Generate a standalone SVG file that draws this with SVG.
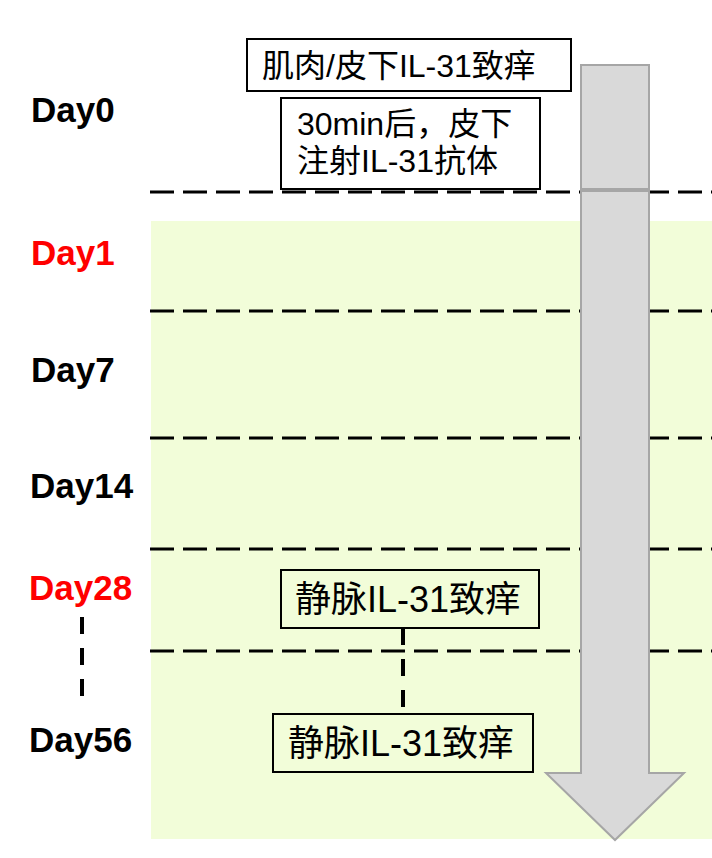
<svg xmlns="http://www.w3.org/2000/svg" width="712" height="858" viewBox="0 0 712 858">
<style>
.day{font-family:"Liberation Sans","Noto Sans CJK SC",sans-serif;font-weight:bold;font-size:35px;fill:#000}
.red{fill:#FF0000}
.box{fill:#fff;stroke:#000;stroke-width:2}
.gbox{fill:#F2FDD9;stroke:#000;stroke-width:2}
.t{font-family:"Liberation Sans","Noto Sans CJK SC",sans-serif;font-size:32px;fill:#000}
.t2{font-size:36px}
.hd{stroke:#000;stroke-width:3;stroke-dasharray:24 9;fill:none}
.vd{stroke:#000;stroke-width:4;stroke-dasharray:17 14;fill:none}
.arr{fill:#D9D9D9;stroke:#A6A6A6;stroke-width:2}
</style>
<rect width="712" height="858" fill="#fff"/>
<rect id="phase" x="151" y="221" width="561" height="618" fill="#F2FDD9"/>
<g id="connectors">
<line class="hd" x1="150" y1="192" x2="712" y2="192"/>
<line class="hd" x1="150" y1="311" x2="712" y2="311"/>
<line class="hd" x1="150" y1="438" x2="712" y2="438"/>
<line class="hd" x1="150" y1="549" x2="712" y2="549"/>
<line class="hd" x1="150" y1="651" x2="712" y2="651"/>
<line class="vd" x1="82" y1="617" x2="82" y2="697"/>
<line class="vd" x1="403" y1="628" x2="403" y2="714"/>
</g>
<g id="timeline-arrow">
<rect class="arr" x="581" y="65" width="68" height="124"/>
<polygon class="arr" points="581,191 649,191 649,773 684,773 615,840 546,773 581,773"/>
</g>
<g id="day-labels">
<text class="day" x="31" y="122">Day0</text>
<text class="day red" x="31" y="265">Day1</text>
<text class="day" x="31" y="382">Day7</text>
<text class="day" x="30" y="498">Day14</text>
<text class="day red" x="29" y="600">Day28</text>
<text class="day" x="29" y="752">Day56</text>
</g>
<g id="node-im">
<rect class="box" x="247" y="39" width="324" height="52"/>
<text class="t" x="262" y="77">肌肉/皮下IL-31致痒</text>
</g>
<g id="node-antibody">
<rect class="box" x="281" y="98" width="259" height="91"/>
<text class="t" x="297" y="135">30min后，皮下</text>
<text class="t" x="297" y="172">注射IL-31抗体</text>
</g>
<g id="node-iv28">
<rect class="gbox" x="281" y="570" width="258" height="58"/>
<text class="t t2" x="295" y="612">静脉IL-31致痒</text>
</g>
<g id="node-iv56">
<rect class="gbox" x="273" y="714" width="260" height="58"/>
<text class="t t2" x="288" y="756">静脉IL-31致痒</text>
</g>
</svg>
